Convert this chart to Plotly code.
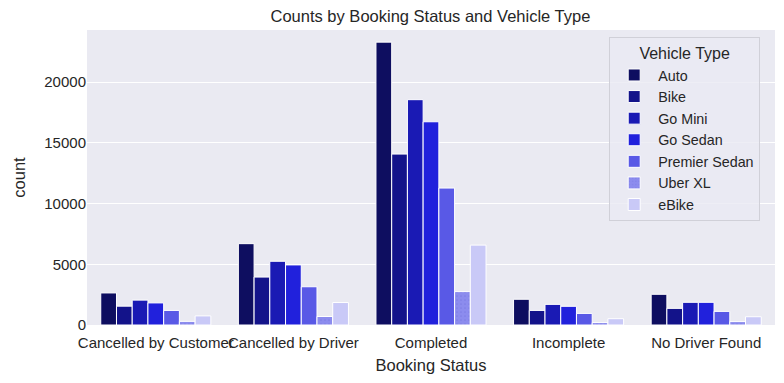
import plotly.graph_objects as go

statuses = ["Cancelled by Customer", "Cancelled by Driver", "Completed", "Incomplete", "No Driver Found"]
vehicle_types = ["Auto", "Bike", "Go Mini", "Go Sedan", "Premier Sedan", "Uber XL", "eBike"]

auto = [2640, 6700, 23300, 2120, 2530]
bike = [1550, 3950, 14080, 1200, 1370]
go_mini = [2050, 5250, 18560, 1700, 1870]
go_sedan = [1820, 4950, 16740, 1540, 1870]
premier_sedan = [1200, 3150, 11280, 955, 1120]
uber_xl = [300, 700, 2750, 200, 280]
ebike = [750, 1850, 6580, 520, 680]

y_ticks = [0, 5000, 10000, 15000, 20000]
y_tick_labels = ["0", "5000", "10000", "15000", "20000"]

series = [auto, bike, go_mini, go_sedan, premier_sedan, uber_xl, ebike]
colors = ["#0e0e60", "#13138a", "#1a1ab4", "#2121dc", "#5959e6", "#8c8cee", "#c9c9f7"]

fig = go.Figure()
for name, vals, col in zip(vehicle_types, series, colors):
    marker = dict(color=col, line=dict(color="white", width=1))
    if name == "Uber XL":
        marker["pattern"] = dict(shape=".", fgcolor="#6f6fdc", size=4, solidity=0.15, fillmode="overlay")
    fig.add_trace(go.Bar(name=name, x=statuses, y=vals, marker=marker))

font_family = "Liberation Sans, Arial, sans-serif"
fig.update_layout(
    width=784, height=383,
    barmode="group", bargap=0.2, bargroupgap=0,
    paper_bgcolor="white", plot_bgcolor="#eaeaf2",
    font=dict(family=font_family, size=15, color="#262626"),
    title=dict(text="Counts by Booking Status and Vehicle Type", x=0.549, xanchor="center",
               y=0.958, yanchor="middle", font=dict(size=16.5, color="#262626")),
    margin=dict(l=87, r=9, t=30, b=58),
    legend=dict(title=dict(text="Vehicle Type", side="top center", font=dict(size=16)),
                x=0.759, xanchor="left", y=0.975, yanchor="top",
                bgcolor="rgba(234,234,242,0.8)", bordercolor="#d0d0d8", borderwidth=1,
                font=dict(size=14.3), itemwidth=38, tracegroupgap=0),
    showlegend=True,
)
fig.update_xaxes(title=dict(text="Booking Status", standoff=9, font=dict(size=16.5)),
                 showgrid=False, ticks="", tickfont=dict(size=15), range=[-0.5, 4.5],
                 tickangle=0, ticklabelstandoff=7, automargin=False)
fig.update_yaxes(title=dict(text="count", standoff=14, font=dict(size=16.5)),
                 showgrid=True, gridcolor="white", gridwidth=1, zeroline=False,
                 tickvals=y_ticks, ticktext=y_tick_labels, ticks="", range=[0, 24300],
                 tickfont=dict(size=15), automargin=False)

fig.write_html("out.html", config={"displayModeBar": False},
               post_script="document.body.style.margin='0';")
